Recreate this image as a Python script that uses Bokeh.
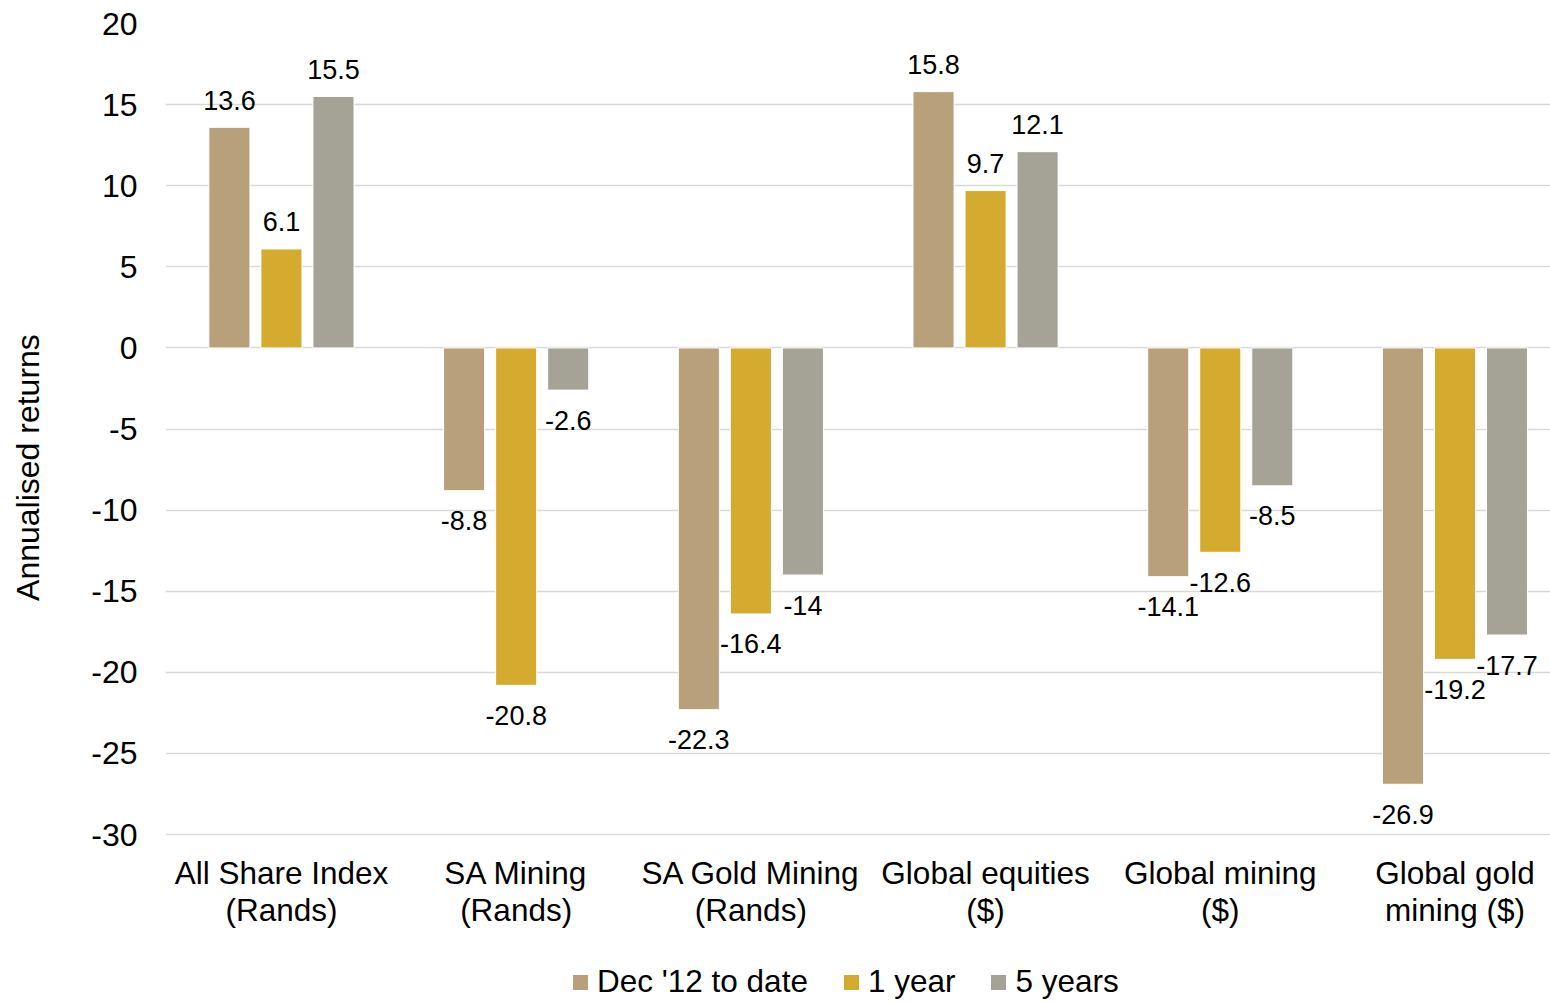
from bokeh.plotting import figure
from bokeh.models import ColumnDataSource, FixedTicker, Legend, LegendItem, Range1d
from bokeh.embed import file_html
from bokeh.resources import INLINE
from bokeh.core.properties import value

categories = ["All Share Index\n(Rands)", "SA Mining\n(Rands)", "SA Gold Mining\n(Rands)",
              "Global equities\n($)", "Global mining\n($)", "Global gold\nmining ($)"]
series_names = ["Dec '12 to date", "1 year", "5 years"]
dec12 = [13.6, -8.8, -22.3, 15.8, -14.1, -26.9]
one_year = [6.1, -20.8, -16.4, 9.7, -12.6, -19.2]
five_years = [15.5, -2.6, -14.0, 12.1, -8.5, -17.7]
y_ticks = [-30, -25, -20, -15, -10, -5, 0, 5, 10, 15, 20]

colors = ["#B8A07A", "#D4AA2F", "#A5A396"]
FONT = "Liberation Sans"

Y_MIN, Y_MAX = y_ticks[0], y_ticks[-1]
# frame extends below the lowest gridline to hold category labels and legend
p = figure(width=1550, height=1000, output_backend="svg", toolbar_location=None,
           x_range=Range1d(-0.494, 5.407), y_range=Range1d(Y_MIN - 10.23, Y_MAX),
           min_border_top=23, min_border_left=165, min_border_right=0, min_border_bottom=0)
p.outline_line_color = None
p.background_fill_color = "white"
p.border_fill_color = "white"

offsets = [-0.2217, 0.0, 0.2217]
bar_w = 0.175
items = []
for k, (name, vals) in enumerate(zip(series_names, [dec12, one_year, five_years])):
    xs = [i + offsets[k] for i in range(len(vals))]
    src = ColumnDataSource(dict(
        x=xs, top=vals,
        label=[f"{v:g}" for v in vals],
        yoff=[-27 if v >= 0 else 30 for v in vals],
    ))
    r = p.vbar(x="x", top="top", bottom=0, width=bar_w, source=src,
               fill_color=colors[k], line_color="white", line_width=1)
    p.text(x="x", y="top", text="label", y_offset="yoff", source=src,
           text_align="center", text_baseline="middle",
           text_font=value(FONT), text_font_size="27px", text_color="#000000")
    items.append(LegendItem(label=name, renderers=[r]))

# category labels (two lines each) under the lowest gridline
for line_idx, yoff in enumerate([38, 75]):
    cat_src = ColumnDataSource(dict(x=list(range(len(categories))),
                                    y=[Y_MIN] * len(categories),
                                    text=[c.split("\n")[line_idx] for c in categories]))
    p.text(x="x", y="y", text="text", source=cat_src, y_offset=yoff,
           text_align="center", text_baseline="middle",
           text_font=value(FONT), text_font_size="31.5px", text_color="#000000")
p.xaxis.visible = False
p.xgrid.grid_line_color = None

p.yaxis.ticker = FixedTicker(ticks=y_ticks)
p.yaxis.major_label_overrides = {t: str(t) for t in y_ticks}
p.yaxis.major_label_text_font = FONT
p.yaxis.major_label_text_font_size = "32px"
p.yaxis.major_label_text_color = "#000000"
p.yaxis.major_label_standoff = 22
p.yaxis.axis_line_color = None
p.yaxis.major_tick_line_color = None
p.yaxis.minor_tick_line_color = None
p.ygrid.grid_line_color = "#D9D9D9"
p.ygrid.grid_line_width = 1.5

# leading no-break spaces shift the title up to centre it on the gridded region
p.yaxis.axis_label = "\u00a0" * 10 + "Annualised returns"
p.yaxis.axis_label_text_font = FONT
p.yaxis.axis_label_text_font_size = "32px"
p.yaxis.axis_label_text_font_style = "normal"
p.yaxis.axis_label_text_color = "#000000"
p.yaxis.axis_label_standoff = 42

legend = Legend(items=items, orientation="horizontal", location=(405, 0),
                glyph_width=20, glyph_height=20, label_standoff=7, spacing=33,
                padding=0, margin=0, border_line_color=None, background_fill_alpha=0,
                label_text_font=FONT, label_text_font_size="31.5px", label_text_color="#000000")
p.add_layout(legend, "center")

open("out.html", "w").write(file_html(p, INLINE))
